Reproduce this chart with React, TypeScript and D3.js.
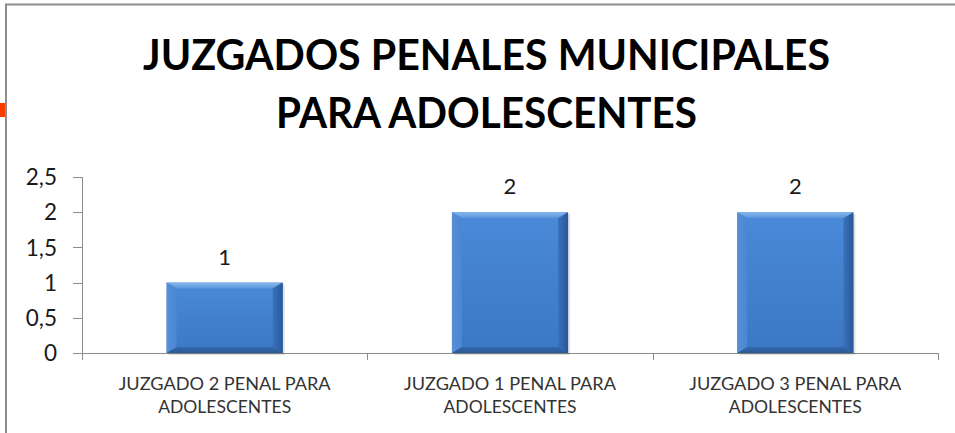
import React from "react";
import * as d3 from "d3";

const categories: string[][] = [
  ["JUZGADO 2 PENAL PARA", "ADOLESCENTES"],
  ["JUZGADO 1 PENAL PARA", "ADOLESCENTES"],
  ["JUZGADO 3 PENAL PARA", "ADOLESCENTES"],
];
const values: number[] = [1, 2, 2];
const yTicks: number[] = [0, 0.5, 1, 1.5, 2, 2.5];
const titleLines: string[] = ["JUZGADOS PENALES MUNICIPALES", "PARA ADOLESCENTES"];

const W = 955;
const H = 433;
const X0 = 82;
const X1 = 938;
const Y0 = 353;
const Y1 = 177;

export default function App() {
  const keys = categories.map((c, i) => String(i));
  const x = d3
    .scaleBand<string>()
    .domain(keys)
    .range([X0, X1])
    .paddingInner(0.593)
    .paddingOuter(0.2965);
  const y = d3.scaleLinear().domain([0, 2.5]).range([Y0, Y1]);
  const fmt = (v: number) => String(v).replace(".", ",");
  const bw = x.bandwidth();
  const bev = 10;
  const bevT = 6;

  return (
    <svg
      width={W}
      height={H}
      style={{ position: "absolute", left: 0, top: 0, background: "#fff" }}
      fontFamily="Lato, 'Open Sans', sans-serif"
    >
      <defs>
        <linearGradient id="face" x1="0" y1="0" x2="0" y2="1">
          <stop offset="0" stopColor="#4a8ad8" />
          <stop offset="1" stopColor="#3b77c4" />
        </linearGradient>
        <linearGradient id="top" x1="0" y1="0" x2="0" y2="1">
          <stop offset="0" stopColor="#88b6ee" />
          <stop offset="1" stopColor="#5b94dc" />
        </linearGradient>
        <linearGradient id="left" x1="0" y1="0" x2="1" y2="0">
          <stop offset="0" stopColor="#5890d8" />
          <stop offset="1" stopColor="#4a86d2" />
        </linearGradient>
        <linearGradient id="right" x1="0" y1="0" x2="1" y2="0">
          <stop offset="0" stopColor="#3a72ba" />
          <stop offset="1" stopColor="#27589a" />
        </linearGradient>
        <linearGradient id="bottom" x1="0" y1="0" x2="0" y2="1">
          <stop offset="0" stopColor="#3468aa" />
          <stop offset="1" stopColor="#2a5a96" />
        </linearGradient>
      </defs>

      <rect x={0} y={0} width={W} height={H} fill="#fff" />
      {/* frame */}
      <line x1={5} y1={4.5} x2={W} y2={4.5} stroke="#8c8c8c" strokeWidth={2} />
      <line x1={6} y1={4} x2={6} y2={H} stroke="#8c8c8c" strokeWidth={2} />
      <rect x={0} y={103} width={5} height={14} fill="#ff3c00" />

      {/* title */}
      <text
        x={486.5}
        y={70}
        textAnchor="middle"
        fontWeight="bold"
        fontSize={42}
        fill="#000"
        textLength={687}
        lengthAdjust="spacingAndGlyphs"
      >
        {titleLines[0]}
      </text>
      <text
        x={486.5}
        y={128}
        textAnchor="middle"
        fontWeight="bold"
        fontSize={42}
        fill="#000"
        textLength={421}
        lengthAdjust="spacingAndGlyphs"
      >
        {titleLines[1]}
      </text>

      {/* y axis */}
      <line x1={X0 + 0.5} y1={Y1} x2={X0 + 0.5} y2={Y0} stroke="#8c8c8c" />
      {yTicks.map((t) => (
        <g key={t}>
          <line x1={73} x2={X0} y1={Math.round(y(t)) + 0.5} y2={Math.round(y(t)) + 0.5} stroke="#8c8c8c" />
          <text x={57} y={y(t)} dy="0.36em" textAnchor="end" fontSize={22.5} fill="#1a1a1a">
            {fmt(t)}
          </text>
        </g>
      ))}

      {/* x axis */}
      <line x1={X0} y1={Y0 + 0.5} x2={X1} y2={Y0 + 0.5} stroke="#8c8c8c" />
      {[0, 1, 2, 3].map((i) => {
        const xx = Math.round(X0 + (i * (X1 - X0)) / 3) + 0.5;
        return <line key={i} x1={xx} x2={xx} y1={Y0} y2={Y0 + 7} stroke="#8c8c8c" />;
      })}

      {/* bars */}
      {values.map((v, i) => {
        const bx = x(String(i)) as number;
        const by = y(v);
        const bh = Y0 - by;
        const r = bx + bw;
        const b = Y0;
        return (
          <g key={i}>
            <rect x={bx + 2} y={by + 2} width={bw} height={bh} fill="#000" opacity={0.12} />
            <rect x={bx} y={by} width={bw} height={bh} fill="url(#face)" />
            <polygon
              points={`${bx},${by} ${r},${by} ${r - bev},${by + bevT} ${bx + bev},${by + bevT}`}
              fill="url(#top)"
            />
            <polygon
              points={`${bx},${by} ${bx + bev},${by + bevT} ${bx + bev},${b - bevT} ${bx},${b}`}
              fill="url(#left)"
            />
            <polygon
              points={`${r},${by} ${r},${b} ${r - bev},${b - bevT} ${r - bev},${by + bevT}`}
              fill="url(#right)"
            />
            <polygon
              points={`${bx},${b} ${bx + bev},${b - bevT} ${r - bev},${b - bevT} ${r},${b}`}
              fill="url(#bottom)"
            />
            <text x={bx + bw / 2} y={by - 18} textAnchor="middle" fontSize={22} fill="#1a1a1a">
              {v}
            </text>
          </g>
        );
      })}

      {/* category labels */}
      {categories.map((c, i) => {
        const cx = (x(String(i)) as number) + bw / 2;
        return (
          <g key={i}>
            <text
              x={cx}
              y={390}
              textAnchor="middle"
              fontSize={18}
              fill="#333"
              textLength={212}
              lengthAdjust="spacingAndGlyphs"
            >
              {c[0]}
            </text>
            <text
              x={cx}
              y={413}
              textAnchor="middle"
              fontSize={18}
              fill="#333"
              textLength={133}
              lengthAdjust="spacingAndGlyphs"
            >
              {c[1]}
            </text>
          </g>
        );
      })}
    </svg>
  );
}
